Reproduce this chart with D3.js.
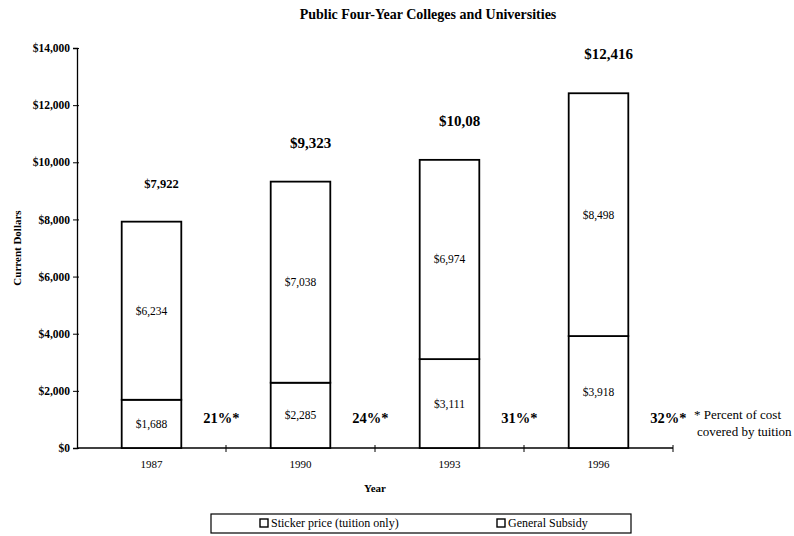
<!DOCTYPE html>
<html>
<head>
<meta charset="utf-8">
<script src="https://cdn.jsdelivr.net/npm/d3@7/dist/d3.min.js"></script>
<style>
  html, body { margin: 0; padding: 0; background: #fff; }
  svg { display: block; }
  text { font-family: "Liberation Serif", "Times New Roman", serif; fill: #000; }
</style>
</head>
<body>
<svg id="chart" width="794" height="536"></svg>
<script>
// Public four-year colleges: cost per student split into tuition and subsidy
const years = ["1987", "1990", "1993", "1996"];
const tuition = [1688, 2285, 3111, 3918];   // sticker price (tuition only)
const subsidy = [6234, 7038, 6974, 8498];   // general subsidy
const totalLabels = ["$7,922", "$9,323", "$10,08", "$12,416"];
const pctLabels = ["21%*", "24%*", "31%*", "32%*"];  // share of cost covered by tuition
const yTicks = [0, 2000, 4000, 6000, 8000, 10000, 12000, 14000];
const seriesNames = ["Sticker price (tuition only)", "General Subsidy"];

const svg = d3.select("#chart");
const margin = { left: 77, right: 121, top: 48, bottom: 88 };
const W = 794, H = 536;

const x = d3.scaleBand()
  .domain(years)
  .range([margin.left, W - margin.right])
  .paddingInner(0.6)
  .paddingOuter(0.3);

const y = d3.scaleLinear()
  .domain([0, 14000])
  .range([H - margin.bottom, margin.top]);

const fmt = d3.format(",");
const money = v => "$" + fmt(v);
const step = x.step();
const bandEnd = d => x(d) - x.bandwidth() * (0.3 / 0.4) + step;

// Title
svg.append("text")
  .attr("x", 428).attr("y", 19)
  .attr("text-anchor", "middle")
  .style("font-size", "14px").style("font-weight", "bold")
  .text("Public Four-Year Colleges and Universities");

// Y axis
const yAxis = svg.append("g")
  .attr("transform", `translate(${margin.left},0)`)
  .call(d3.axisLeft(y).tickValues(yTicks).tickSize(4).tickFormat(money));
yAxis.select(".domain").attr("stroke", "#000").attr("stroke-width", 1.3);
yAxis.selectAll(".tick line").attr("stroke", "#000").attr("x2", -4).attr("x1", 2);
yAxis.selectAll(".tick text")
  .attr("x", -7)
  .style("font-family", "Liberation Serif, serif")
  .style("font-size", "11.5px").style("font-weight", "bold");

svg.append("text")
  .attr("transform", `translate(21,${(y(0) + y(14000)) / 2}) rotate(-90)`)
  .attr("text-anchor", "middle")
  .style("font-size", "11px").style("font-weight", "bold")
  .text("Current Dollars");

// X axis: baseline with ticks at band boundaries
const xStart = margin.left, xEnd = W - margin.right;
svg.append("line")
  .attr("x1", xStart).attr("x2", xEnd)
  .attr("y1", y(0)).attr("y2", y(0))
  .attr("stroke", "#000").attr("stroke-width", 1.3);
svg.selectAll(".xtick")
  .data(years)
  .join("line")
  .attr("class", "xtick")
  .attr("x1", bandEnd)
  .attr("x2", bandEnd)
  .attr("y1", y(0) - 3).attr("y2", y(0) + 4)
  .attr("stroke", "#000");

svg.selectAll(".year")
  .data(years)
  .join("text")
  .attr("class", "year")
  .attr("x", d => x(d) + x.bandwidth() / 2)
  .attr("y", y(0) + 20)
  .attr("text-anchor", "middle")
  .style("font-size", "11px")
  .text(d => d);

svg.append("text")
  .attr("x", 375).attr("y", 492)
  .attr("text-anchor", "middle")
  .style("font-size", "11px").style("font-weight", "bold")
  .text("Year");

// Stacked bars
const rows = years.map((yr, i) => ({ year: yr, tuition: tuition[i], subsidy: subsidy[i] }));
const stack = d3.stack().keys(["tuition", "subsidy"])(rows);

const groups = svg.selectAll(".series")
  .data(stack)
  .join("g")
  .attr("class", "series");

groups.selectAll("rect")
  .data(d => d)
  .join("rect")
  .attr("x", d => x(d.data.year))
  .attr("width", x.bandwidth())
  .attr("y", d => y(d[1]))
  .attr("height", d => y(d[0]) - y(d[1]))
  .attr("fill", "#fff")
  .attr("stroke", "#000")
  .attr("stroke-width", 1.8);

// Segment value labels
groups.selectAll(".seg")
  .data(d => d)
  .join("text")
  .attr("class", "seg")
  .attr("x", d => x(d.data.year) + x.bandwidth() / 2)
  .attr("y", d => (y(d[0]) + y(d[1])) / 2 + 4)
  .attr("text-anchor", "middle")
  .style("font-size", "11.5px")
  .text(d => money(d[1] - d[0]));

// Totals above bars
svg.selectAll(".total")
  .data(rows)
  .join("text")
  .attr("class", "total")
  .attr("x", d => x(d.year) + x.bandwidth() / 2 + 10)
  .attr("y", d => y(d.tuition + d.subsidy) - 34)
  .attr("text-anchor", "middle")
  .style("font-size", (d, i) => i === 0 ? "12.5px" : "15px")
  .style("font-weight", "bold")
  .text((d, i) => totalLabels[i]);

// Tuition share of total cost, beside each bar
svg.selectAll(".pct")
  .data(rows)
  .join("text")
  .attr("class", "pct")
  .attr("x", d => x(d.year) + x.bandwidth() + 40)
  .attr("y", 423)
  .attr("text-anchor", "middle")
  .style("font-size", "14.5px").style("font-weight", "bold")
  .text((d, i) => pctLabels[i]);

// Footnote
svg.append("text")
  .attr("x", 694).attr("y", 419)
  .style("font-size", "13px")
  .text("* Percent of cost");
svg.append("text")
  .attr("x", 697).attr("y", 436)
  .style("font-size", "13px")
  .text("covered by tuition");

// Legend
const legend = svg.append("g");
legend.append("rect")
  .attr("x", 211).attr("y", 514).attr("width", 420).attr("height", 19)
  .attr("fill", "#fff").attr("stroke", "#000").attr("stroke-width", 1.2);
const legendX = [260, 497];
seriesNames.forEach((name, i) => {
  legend.append("rect")
    .attr("x", legendX[i]).attr("y", 519).attr("width", 8).attr("height", 8)
    .attr("fill", "#fff").attr("stroke", "#000").attr("stroke-width", 1.4);
  legend.append("text")
    .attr("x", legendX[i] + 11).attr("y", 527)
    .style("font-size", "12px")
    .text(name);
});
</script>
</body>
</html>
